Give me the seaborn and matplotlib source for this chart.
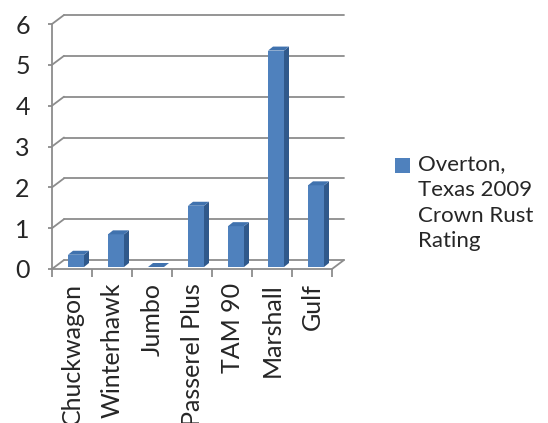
import numpy as np
import pandas as pd
import seaborn as sns
import matplotlib.pyplot as plt
from matplotlib.patches import Polygon, Rectangle

# Crown rust ratings, Overton Texas 2009
cultivars = ['Chuckwagon', 'Winterhawk', 'Jumbo', 'Passerel Plus', 'TAM 90', 'Marshall', 'Gulf']
ratings = [0.3, 0.8, 0.0, 1.5, 1.0, 5.3, 2.0]
y_ticks = [0, 1, 2, 3, 4, 5, 6]
legend_label = 'Overton,\nTexas 2009\nCrown Rust\nRating'

df = pd.DataFrame({'cultivar': cultivars, 'rating': ratings})

sns.set_style('white')
plt.rcParams['font.family'] = ['Lato', 'DejaVu Sans']

face = '#4F81BD'
side = '#30598B'
top = '#4072AE'
grid = '#8C8C8C'

fig = plt.figure(figsize=(5.48, 4.23), dpi=100)
ax = fig.add_axes([52 / 548, 154 / 423, 280 / 548, 245 / 423])

sns.barplot(data=df, x='cultivar', y='rating', color=face, width=0.4,
            saturation=1, ax=ax, zorder=3)
ax.set_xlim(-0.5, len(cultivars) - 0.5)
ax.set_ylim(0, 6)

# pixel -> data unit helpers (axes size fixed above)
ux = 280 / len(cultivars)
uy = 245 / 6
wx, wy = 12 / ux, 9 / uy      # back wall depth
fx, fy = 4 / ux, 2 / uy       # bar front face offset
dx, dy = 5 / ux, 4 / uy       # bar depth

# back wall gridlines + side connectors
for t in y_ticks:
    ax.plot([-0.5 + wx, len(cultivars) - 0.5 + wx], [t + wy, t + wy],
            color=grid, lw=1.3, zorder=1, clip_on=False)
    ax.plot([-0.5, -0.5 + wx], [t, t + wy], color=grid, lw=1.3, zorder=1, clip_on=False)
# floor edges and front axis
ax.plot([-0.5, len(cultivars) - 0.5], [0, 0], color=grid, lw=1.3, zorder=2, clip_on=False)
ax.plot([len(cultivars) - 0.5, len(cultivars) - 0.5 + wx], [0, wy], color=grid, lw=1.3,
        zorder=2, clip_on=False)
ax.plot([-0.5, -0.5], [0, 6], color=grid, lw=1.3, zorder=2, clip_on=False)

# 3d look for the bars
for p in ax.patches:
    x0 = p.get_x() + fx
    w = p.get_width()
    h = p.get_height()
    p.set_x(x0)
    p.set_y(fy)
    p.set_edgecolor('none')
    b = fy
    ax.add_patch(Polygon([(x0 + w, b), (x0 + w + dx, b + dy), (x0 + w + dx, b + h + dy),
                          (x0 + w, b + h)], closed=True, fc=side, ec='none', zorder=3,
                         clip_on=False))
    ax.add_patch(Polygon([(x0, b + h), (x0 + w, b + h), (x0 + w + dx, b + h + dy),
                          (x0 + dx, b + h + dy)], closed=True, fc=top, ec='none', zorder=3,
                         clip_on=False))

for s in ax.spines.values():
    s.set_visible(False)

ax.set_yticks(y_ticks)
ax.set_yticklabels([str(t) for t in y_ticks], fontsize=18)
ax.set_xticks(range(len(cultivars)))
ax.set_xticklabels(cultivars, rotation=90, fontsize=18)
ax.set_xticks(np.arange(-0.5, len(cultivars), 1), minor=True)
ax.tick_params(axis='y', length=3, color=grid, width=1.3, pad=13, left=True)
ax.tick_params(axis='x', which='major', length=0, pad=10)
ax.tick_params(axis='x', which='minor', length=6, color=grid, width=1.3, bottom=True)
ax.set_xlabel('')
ax.set_ylabel('')

# legend: swatch + wrapped series name
fig.patches.append(Rectangle((395 / 548, 1 - 173 / 423), 15 / 548, 15 / 423,
                             transform=fig.transFigure, fc=face, ec='none'))
fig.text(418 / 548, 1 - 154 / 423, legend_label, fontsize=16, linespacing=1.36,
         ha='left', va='top')

fig.savefig('out.png', dpi=100)
